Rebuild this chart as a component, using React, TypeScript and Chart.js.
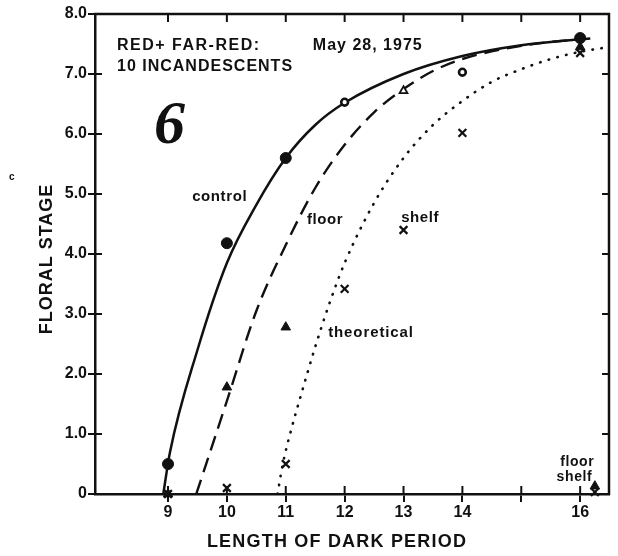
import React, { useEffect, useRef } from 'react';
import { Chart, registerables } from 'chart.js';

Chart.register(...registerables);

const INK = '#111111';
const FONT = '"Liberation Sans", Arial, sans-serif';

// Axis ticks
const xTickValues = [9, 10, 11, 12, 13, 14, 15, 16];
const xTickLabels = ['9', '10', '11', '12', '13', '14', '', '16'];
const yTickValues = [0, 1, 2, 3, 4, 5, 6, 7, 8];
const yTickLabels = ['0', '1.0', '2.0', '3.0', '4.0', '5.0', '6.0', '7.0', '8.0'];

// Observed points
const controlX = [9, 10, 11, 16];
const controlY = [0.5, 4.18, 5.6, 7.6];
const controlOpenX = [12, 14];
const controlOpenY = [6.53, 7.03];
const floorX = [9, 10, 11, 16, 16.25];
const floorY = [0, 1.78, 2.78, 7.45, 0.13];
const floorOpenX = [13];
const floorOpenY = [6.72];
const shelfX = [9, 10, 11, 12, 13, 14, 16, 16.25];
const shelfY = [0, 0.1, 0.5, 3.42, 4.4, 6.02, 7.35, 0.03];

// Drawn curves (read along the lines of the figure)
const controlCurveX = [8.92, 9.03, 9.5, 10, 10.5, 11, 11.5, 12, 13, 14, 15, 16];
const controlCurveY = [0, 0.68, 2.4, 3.85, 4.82, 5.6, 6.15, 6.52, 7.0, 7.3, 7.48, 7.58];
const floorCurveX = [9.48, 10, 10.5, 11, 11.5, 12, 12.5, 13, 13.5, 14, 15, 16, 16.3];
const floorCurveY = [0, 1.55, 3.05, 4.15, 5.1, 5.82, 6.36, 6.75, 7.05, 7.25, 7.47, 7.58, 7.6];
const theoreticalCurveX = [10.86, 10.95, 11.1, 11.25, 11.5, 11.75, 12, 12.5, 13, 13.5, 14, 14.5, 15, 15.5, 16, 16.49];
const theoreticalCurveY = [0, 0.5, 1.1, 1.62, 2.45, 3.2, 3.85, 4.85, 5.6, 6.15, 6.55, 6.87, 7.08, 7.25, 7.37, 7.45];

// Text annotations (data coordinates of left edge / vertical middle)
const notes = [
  { text: 'RED+ FAR-RED:', x: 8.134, y: 7.48, size: 16, spacing: 1.5 },
  { text: '10 INCANDESCENTS', x: 8.134, y: 7.12, size: 16, spacing: 1 },
  { text: 'May 28, 1975', x: 11.46, y: 7.48, size: 16, spacing: 1 },
  { text: 'control', x: 9.41, y: 4.95, size: 15, spacing: 0.6 },
  { text: 'floor', x: 11.36, y: 4.57, size: 15, spacing: 0.6 },
  { text: 'shelf', x: 12.96, y: 4.6, size: 15, spacing: 0.6 },
  { text: 'theoretical', x: 11.72, y: 2.68, size: 15, spacing: 0.9 },
  { text: 'floor', x: 15.66, y: 0.53, size: 14, spacing: 0.6 },
  { text: 'shelf', x: 15.6, y: 0.28, size: 14, spacing: 0.6 },
];

const xTitle = 'LENGTH OF DARK PERIOD';
const yTitle = 'FLORAL STAGE';
const panelLabel = '6';

const pts = (xs: number[], ys: number[]) => xs.map((x, i) => ({ x, y: ys[i] }));

const frame = {
  id: 'frame',
  afterDraw(chart: any) {
    const { ctx, chartArea: a, scales } = chart;
    const xs = scales.x;
    const ys = scales.y;
    ctx.save();
    ctx.strokeStyle = INK;
    ctx.fillStyle = INK;
    ctx.lineWidth = 2.5;
    ctx.lineCap = 'butt';
    // top & right axis lines
    ctx.beginPath();
    ctx.moveTo(a.left - 1, a.top);
    ctx.lineTo(a.right, a.top);
    ctx.lineTo(a.right, a.bottom + 1);
    ctx.stroke();
    // inward ticks
    ctx.lineWidth = 2;
    ctx.beginPath();
    xTickValues.forEach((v) => {
      const px = xs.getPixelForValue(v);
      ctx.moveTo(px, a.bottom);
      ctx.lineTo(px, a.bottom - 8);
      ctx.moveTo(px, a.top);
      ctx.lineTo(px, a.top + 8);
    });
    yTickValues.forEach((v) => {
      const py = ys.getPixelForValue(v);
      if (v > 0 && v < 8) {
        ctx.moveTo(a.left, py);
        ctx.lineTo(a.left + 7, py);
        ctx.moveTo(a.right, py);
        ctx.lineTo(a.right - 7, py);
      }
    });
    ctx.stroke();

    // annotations
    ctx.textBaseline = 'middle';
    ctx.textAlign = 'left';
    notes.forEach((n) => {
      ctx.font = `bold ${n.size}px ${FONT}`;
      (ctx as any).letterSpacing = `${n.spacing}px`;
      ctx.fillText(n.text, xs.getPixelForValue(n.x), ys.getPixelForValue(n.y));
    });

    // axis titles
    ctx.font = `bold 18px ${FONT}`;
    (ctx as any).letterSpacing = '1.2px';
    ctx.textAlign = 'center';
    ctx.fillText(xTitle, 337, 542);
    ctx.save();
    ctx.translate(47, 259);
    ctx.rotate(-Math.PI / 2);
    (ctx as any).letterSpacing = '1px';
    ctx.fillText(yTitle, 0, 0);
    ctx.restore();

    // panel number
    (ctx as any).letterSpacing = '0px';
    ctx.textAlign = 'left';
    ctx.textBaseline = 'alphabetic';
    ctx.font = `bold italic 62px "Liberation Serif", "DejaVu Serif", serif`;
    ctx.fillText(panelLabel, 154, 143);

    // stray mark at far left
    ctx.font = `bold 10px ${FONT}`;
    ctx.textBaseline = 'middle';
    ctx.fillText('c', 9, 177);
    ctx.restore();
  },
};

export default function App() {
  const ref = useRef<HTMLCanvasElement | null>(null);

  useEffect(() => {
    if (!ref.current) return;
    const curve = (label: string, xs: number[], ys: number[], extra: any) => ({
      type: 'line',
      label,
      data: pts(xs, ys),
      showLine: true,
      borderColor: INK,
      borderWidth: 2.5,
      pointRadius: 0,
      fill: false,
      cubicInterpolationMode: 'monotone',
      order: 3,
      ...extra,
    });
    const marks = (label: string, xs: number[], ys: number[], extra: any) => ({
      type: 'scatter',
      label,
      data: pts(xs, ys),
      showLine: false,
      borderColor: INK,
      backgroundColor: INK,
      clip: false,
      order: 1,
      ...extra,
    });

    const chart = new Chart(ref.current, {
      type: 'scatter',
      data: {
        datasets: [
          marks('control', controlX, controlY, { pointStyle: 'circle', pointRadius: 5.5, borderWidth: 1 }),
          marks('control (open)', controlOpenX, controlOpenY, {
            pointStyle: 'circle', pointRadius: 3.4, borderWidth: 2.6, backgroundColor: '#ffffff',
          }),
          marks('floor', floorX, floorY, { pointStyle: 'triangle', pointRadius: 5.5, borderWidth: 1 }),
          marks('floor (open)', floorOpenX, floorOpenY, {
            pointStyle: 'triangle', pointRadius: 4.5, borderWidth: 1.8, backgroundColor: '#ffffff',
          }),
          marks('shelf', shelfX, shelfY, { pointStyle: 'crossRot', pointRadius: 5.5, borderWidth: 2.2 }),
          curve('control curve', controlCurveX, controlCurveY, {}),
          curve('floor curve', floorCurveX, floorCurveY, { borderDash: [15, 8], borderWidth: 2.4 }),
          curve('theoretical curve', theoreticalCurveX, theoreticalCurveY, {
            borderDash: [0.5, 8.5], borderWidth: 2.6, borderCapStyle: 'round',
          }),
        ] as any,
      },
      options: {
        responsive: false,
        animation: false,
        devicePixelRatio: 1,
        events: [],
        layout: { padding: { left: 0, top: 14, right: 9, bottom: 0 } },
        plugins: { legend: { display: false }, tooltip: { enabled: false } },
        scales: {
          x: {
            type: 'linear',
            min: 7.76,
            max: 16.49,
            afterFit: (s: any) => { s.height = 62; },
            afterBuildTicks: (s: any) => { s.ticks = xTickValues.map((value) => ({ value })); },
            ticks: {
              autoSkip: false,
              maxRotation: 0,
              padding: 1,
              color: INK,
              font: { family: FONT, size: 16, weight: 'bold' },
              callback: (v: any) => {
                const i = xTickValues.indexOf(Number(v));
                return i >= 0 ? xTickLabels[i] : '';
              },
            },
            grid: { drawOnChartArea: false, drawTicks: true, tickLength: 8, color: INK, lineWidth: 2 },
            border: { display: true, color: INK, width: 2.5 },
          },
          y: {
            type: 'linear',
            min: 0,
            max: 8,
            afterFit: (s: any) => { s.width = 95; },
            afterBuildTicks: (s: any) => { s.ticks = yTickValues.map((value) => ({ value })); },
            ticks: {
              padding: 1,
              color: INK,
              font: { family: FONT, size: 16, weight: 'bold' },
              callback: (v: any) => {
                const i = yTickValues.indexOf(Number(v));
                return i >= 0 ? yTickLabels[i] : '';
              },
            },
            grid: { drawOnChartArea: false, drawTicks: true, tickLength: 7, color: INK, lineWidth: 2 },
            border: { display: true, color: INK, width: 2.5 },
          },
        },
      },
      plugins: [frame],
    } as any);
    return () => chart.destroy();
  }, []);

  return (
    <div style={{ position: 'absolute', left: 0, top: 0, width: 618, height: 556, background: '#ffffff' }}>
      <canvas ref={ref} width={618} height={556} style={{ display: 'block', width: 618, height: 556 }} />
    </div>
  );
}
